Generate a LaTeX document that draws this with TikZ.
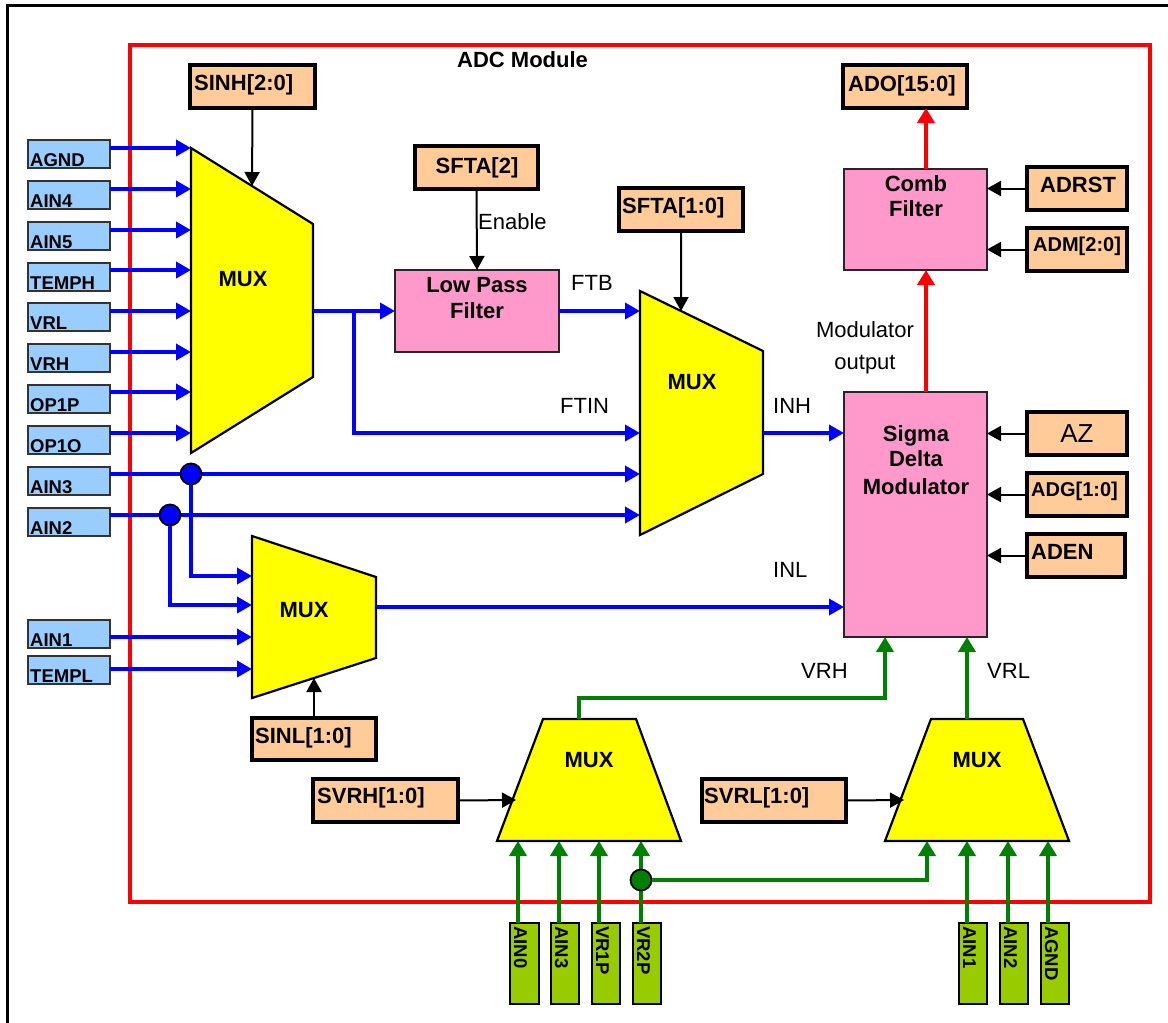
\documentclass[tikz,border=0pt]{standalone}
\usepackage{fontspec}
\setmainfont{Liberation Sans}
\usetikzlibrary{arrows.meta,fit,calc}
\definecolor{bluebox}{HTML}{99CCFF}
\definecolor{orangebox}{HTML}{FFCC99}
\definecolor{pinkbox}{HTML}{FF99CC}
\definecolor{muxyellow}{HTML}{FFFF00}
\definecolor{greenbox}{HTML}{99CC00}
\definecolor{bwire}{HTML}{0000FF}
\definecolor{gwire}{HTML}{008000}
\definecolor{rwire}{HTML}{FF0000}
\tikzset{
  bbox/.style={draw=black!80, line width=2.2pt, fill=bluebox, inner sep=0pt, outer sep=0pt},
  obox/.style={draw=black, line width=3.8pt, fill=orangebox, inner sep=0pt, outer sep=0pt},
  pbox/.style={draw=black!85, line width=2.2pt, fill=pinkbox, inner sep=0pt, outer sep=0pt},
  gbox/.style={draw=black, line width=2.2pt, fill=greenbox, inner sep=0pt, outer sep=0pt},
  muxshape/.style={draw=black, line width=2.2pt, fill=muxyellow, line join=miter},
  bw/.style={draw=bwire, line width=3.6pt, -{Triangle[length=15pt,width=16pt]}},
  gw/.style={draw=gwire, line width=3.6pt, -{Triangle[length=15pt,width=17pt]}},
  rw/.style={draw=rwire, line width=4.3pt, -{Triangle[length=15pt,width=17pt]}},
  cw/.style={draw=black, line width=2pt, -{Triangle[length=14pt,width=15pt]}},
  bdot/.style={circle, fill=bwire, draw=black, line width=1.8pt, minimum size=21pt, inner sep=0pt},
  gdot/.style={circle, fill=gwire, draw=black, line width=1.8pt, minimum size=21pt, inner sep=0pt},
  inlbl/.style={font=\fontsize{18.5}{20}\selectfont\bfseries, inner sep=0pt, anchor=base west},
  vlbl/.style={font=\fontsize{18.5}{20}\selectfont\bfseries, inner sep=0pt, anchor=base west, rotate=-90},
  olbl/.style={font=\fontsize{22}{24}\selectfont\bfseries, inner sep=0pt, anchor=base west},
  oslbl/.style={font=\fontsize{20}{22}\selectfont\bfseries, inner sep=0pt, anchor=base west},
  blbl/.style={font=\fontsize{22}{24}\selectfont\bfseries, inner sep=0pt, anchor=base},
  tlbl/.style={font=\fontsize{22}{24}\selectfont, inner sep=0pt, anchor=base west},
  tclbl/.style={font=\fontsize{22}{24}\selectfont, inner sep=0pt, anchor=base},
}
\begin{document}
\begin{tikzpicture}[x=1pt,y=-1pt]
\useasboundingbox[fill=white] (0,0) rectangle (1168,1023);
% frames
\draw[line width=3pt] (7.5,1060) -- (7.5,5.5) -- (1200,5.5);
\draw[draw=rwire, line width=3.5pt] (130,45) rectangle (1150,902);
\node[blbl, anchor=base west] (title) at (457,67) {ADC Module};

% left input boxes
\node[bbox, fit={(28,140) (110,168)}] (agnd) {};
\node[bbox, fit={(28,181) (110,209)}] (ain4) {};
\node[bbox, fit={(28,222) (110,250)}] (ain5) {};
\node[bbox, fit={(28,263) (110,291)}] (temph) {};
\node[bbox, fit={(28,303) (110,331)}] (vrl) {};
\node[bbox, fit={(28,344) (110,372)}] (vrh) {};
\node[bbox, fit={(28,385) (110,413)}] (op1p) {};
\node[bbox, fit={(28,426) (110,454)}] (op1o) {};
\node[bbox, fit={(28,467) (110,495)}] (ain3) {};
\node[bbox, fit={(28,508) (110,536)}] (ain2) {};
\node[bbox, fit={(28,620) (110,648)}] (ain1) {};
\node[bbox, fit={(28,656) (110,684)}] (templ) {};
\node[inlbl] (tagnd) at (30,166.5) {AGND};
\node[inlbl] (tain4) at (30,207.5) {AIN4};
\node[inlbl] (tain5) at (30,248.5) {AIN5};
\node[inlbl] (ttemph) at (30,289.5) {TEMPH};
\node[inlbl] (tvrl) at (30,329.5) {VRL};
\node[inlbl] (tvrh) at (30,370.5) {VRH};
\node[inlbl] (top1p) at (30,411.5) {OP1P};
\node[inlbl] (top1o) at (30,452.5) {OP1O};
\node[inlbl] (tain3) at (30,493.5) {AIN3};
\node[inlbl] (tain2) at (30,534.5) {AIN2};
\node[inlbl] (tain1) at (30,646.5) {AIN1};
\node[inlbl] (ttempl) at (30,682.5) {TEMPL};

% muxes
\draw[muxshape] (191,148) coordinate (m1tl) -- (313,224) coordinate (m1tr) -- (313,377) -- (191,453) -- cycle;
\draw[muxshape] (640,291) coordinate (m2tl) -- (763,351) coordinate (m2tr) -- (763,474) -- (640,535) -- cycle;
\draw[muxshape] (252,536) -- (376,577) -- (376,658) coordinate (m3br) -- (252,698) coordinate (m3bl) -- cycle;
\draw[muxshape] (543,719) -- (636,719) -- (681,841) -- (497,841) -- cycle;
\draw[muxshape] (931,719) -- (1023,719) -- (1069,841) -- (885,841) -- cycle;
\node[blbl] (mux1) at (243,286) {MUX};
\node[blbl] (mux2) at (692,389) {MUX};
\node[blbl] (mux3) at (304,617) {MUX};
\node[blbl] (mux4) at (589,767) {MUX};
\node[blbl] (mux5) at (977,767) {MUX};

% pink blocks
\node[pbox, fit={(395,270) (559,352)}] (lpf) {};
\node[pbox, fit={(844,169) (987,270)}] (comb) {};
\node[pbox, fit={(844,392) (987,637)}] (sdm) {};
\node[blbl] (tlpf1) at (477,292) {Low Pass};
\node[blbl] (tlpf2) at (477,318) {Filter};
\node[blbl] (tcomb1) at (916,191) {Comb};
\node[blbl] (tcomb2) at (916,216) {Filter};
\node[blbl] (tsdm1) at (916,441) {Sigma};
\node[blbl] (tsdm2) at (916,466) {Delta};
\node[blbl] (tsdm3) at (916,494) {Modulator};

% orange control boxes
\node[obox, fit={(190,65) (315,108)}] (sinh) {};
\node[obox, fit={(415,146) (538,189)}] (sfta2) {};
\node[obox, fit={(619,188) (743,231)}] (sfta10) {};
\node[obox, fit={(843,65) (967,108)}] (ado) {};
\node[obox, fit={(1027,167) (1127,210)}] (adrst) {};
\node[obox, fit={(1027,228) (1127,271)}] (adm) {};
\node[obox, fit={(1027,412) (1127,455)}] (az) {};
\node[obox, fit={(1027,473) (1127,516)}] (adg) {};
\node[obox, fit={(1027,534) (1125,577)}] (aden) {};
\node[obox, fit={(252,718) (376,760)}] (sinl) {};
\node[obox, fit={(313,779) (458,822)}] (svrh) {};
\node[obox, fit={(702,779) (846,822)}] (svrl) {};
\node[olbl] (tsinh) at (194,90) {SINH[2:0]};
\node[olbl, anchor=base] (tsfta2) at (477,173) {SFTA[2]};
\node[olbl] (tsfta10) at (622,213) {SFTA[1:0]};
\node[olbl] (tado) at (848,91) {ADO[15:0]};
\node[olbl] (tadrst) at (1040,192) {ADRST};
\node[oslbl] (tadm) at (1033,251) {ADM[2:0]};
\node[tclbl, font=\fontsize{26}{28}\selectfont] (taz) at (1077,442) {AZ};
\node[oslbl] (tadg) at (1031,496) {ADG[1:0]};
\node[olbl] (taden) at (1031,559) {ADEN};
\node[olbl] (tsinl) at (255,743) {SINL[1:0]};
\node[olbl] (tsvrh) at (317,803) {SVRH[1:0]};
\node[olbl] (tsvrl) at (704,803) {SVRL[1:0]};

% bottom green boxes
\node[gbox, fit={(510,923) (539,1004)}] (ain0b) {};
\node[gbox, fit={(551,923) (579,1004)}] (ain3b) {};
\node[gbox, fit={(592,923) (620,1004)}] (vr1pb) {};
\node[gbox, fit={(633,923) (661,1004)}] (vr2pb) {};
\node[gbox, fit={(959,923) (987,1004)}] (ain1b) {};
\node[gbox, fit={(1000,923) (1028,1004)}] (ain2b) {};
\node[gbox, fit={(1041,923) (1069,1004)}] (agndb) {};
\node[vlbl] (tain0b) at (514,926) {AIN0};
\node[vlbl] (tain3b) at (555,926) {AIN3};
\node[vlbl] (tvr1pb) at (596,926) {VR1P};
\node[vlbl] (tvr2pb) at (637,926) {VR2P};
\node[vlbl] (tain1b) at (963,926) {AIN1};
\node[vlbl] (tain2b) at (1004,926) {AIN2};
\node[vlbl] (tagndb) at (1045,926) {AGND};

% signal labels
\node[tlbl] (lenable) at (478,229) {Enable};
\node[tlbl] (lftb) at (571,290) {FTB};
\node[tlbl] (lftin) at (560,413) {FTIN};
\node[tlbl] (linh) at (773,413) {INH};
\node[tlbl] (linl) at (773,577) {INL};
\node[tlbl] (lvrh) at (801,678) {VRH};
\node[tlbl] (lvrl) at (987,678) {VRL};
\node[tclbl] (lmod1) at (865,337) {Modulator};
\node[tclbl] (lmod2) at (865,369) {output};

% coordinates for mux ports
\coordinate (m1a) at (191,148);
\coordinate (m1b) at (191,189);
\coordinate (m1c) at (191,230);
\coordinate (m1d) at (191,270);
\coordinate (m1e) at (191,311);
\coordinate (m1f) at (191,352);
\coordinate (m1g) at (191,392);
\coordinate (m1h) at (191,433);
\coordinate (m1out) at (313,311);
\coordinate (br) at (354,311);
\coordinate (m2a) at (640,311);
\coordinate (m2b) at (640,433);
\coordinate (m2c) at (640,474);
\coordinate (m2d) at (640,515);
\coordinate (m2out) at (763,433);
\coordinate (m3a) at (252,576);
\coordinate (m3b) at (252,605);
\coordinate (m3c) at (252,637);
\coordinate (m3d) at (252,669);
\coordinate (m3out) at (376,607);
\coordinate (m4out) at (579,719);
\coordinate (vrhx) at (885,698);
\coordinate (m5out) at (967,719);
\coordinate (m4a) at (518,841);
\coordinate (m4b) at (559,841);
\coordinate (m4c) at (599,841);
\coordinate (m4d) at (641,841);
\coordinate (m5a) at (927,841);
\coordinate (m5b) at (967,841);
\coordinate (m5c) at (1008,841);
\coordinate (m5d) at (1048,841);
\coordinate (m4sel) at (516,800);
\coordinate (m5sel) at (904,800);
\coordinate (rx) at (926,0);

% blue wires
\draw[bw] (agnd.east |- m1a) -- (m1a);
\draw[bw] (ain4.east |- m1b) -- (m1b);
\draw[bw] (ain5.east |- m1c) -- (m1c);
\draw[bw] (temph.east |- m1d) -- (m1d);
\draw[bw] (vrl.east |- m1e) -- (m1e);
\draw[bw] (vrh.east |- m1f) -- (m1f);
\draw[bw] (op1p.east |- m1g) -- (m1g);
\draw[bw] (op1o.east |- m1h) -- (m1h);
\draw[bw] (m1out) -- (lpf.west |- m1out);
\draw[bw] (br) |- (m2b);
\draw[bw] (lpf.east |- m2a) -- (m2a);
\draw[bw] (ain3.east |- m2c) -- (m2c);
\draw[bw] (ain2.east |- m2d) -- (m2d);
\node[bdot] (d3) at (191,474) {};
\node[bdot] (d2) at (170,515) {};
\draw[bw] (d3.south) |- (m3a);
\draw[bw] (d2.south) |- (m3b);
\draw[bw] (ain1.east |- m3c) -- (m3c);
\draw[bw] (templ.east |- m3d) -- (m3d);
\draw[bw] (m3out) -- (sdm.west |- m3out);
\draw[bw] (m2out) -- (sdm.west |- m2out);

% control arrows
\draw[cw] (sinh.south) -- ($(m1tl)!0.5!(m1tr)$);
\draw[cw] (sfta2.south) -- (lpf.north);
\draw[cw] (sfta10.south) -- ($(m2tl)!1/3!(m2tr)$);
\draw[cw] (sinl.north) -- ($(m3bl)!0.5!(m3br)$);
\draw[cw] (svrh.east) -- (m4sel);
\draw[cw] (svrl.east) -- (m5sel);
\draw[cw] (adrst.west) -- (comb.east |- adrst.west);
\draw[cw] (adm.west) -- (comb.east |- adm.west);
\draw[cw] (az.west) -- (sdm.east |- az.west);
\draw[cw] (adg.west) -- (sdm.east |- adg.west);
\draw[cw] (aden.west) -- (sdm.east |- aden.west);

% red wires
\draw[rw] (sdm.north -| rx) -- (comb.south -| rx);
\draw[rw] (comb.north -| rx) -- (ado.south -| rx);

% green wires
\draw[gw] (m4out) |- (vrhx) -- (sdm.south -| vrhx);
\draw[gw] (m5out) -- (sdm.south -| m5out);
\draw[gw] (ain0b.north -| m4a) -- (m4a);
\draw[gw] (ain3b.north -| m4b) -- (m4b);
\draw[gw] (vr1pb.north -| m4c) -- (m4c);
\draw[gw] (vr2pb.north -| m4d) -- (m4d);
\node[gdot] (gd) at (641,880) {};
\draw[gw] (gd.east) -| (m5a);
\draw[gw] (ain1b.north -| m5b) -- (m5b);
\draw[gw] (ain2b.north -| m5c) -- (m5c);
\draw[gw] (agndb.north -| m5d) -- (m5d);
\end{tikzpicture}
\end{document}
